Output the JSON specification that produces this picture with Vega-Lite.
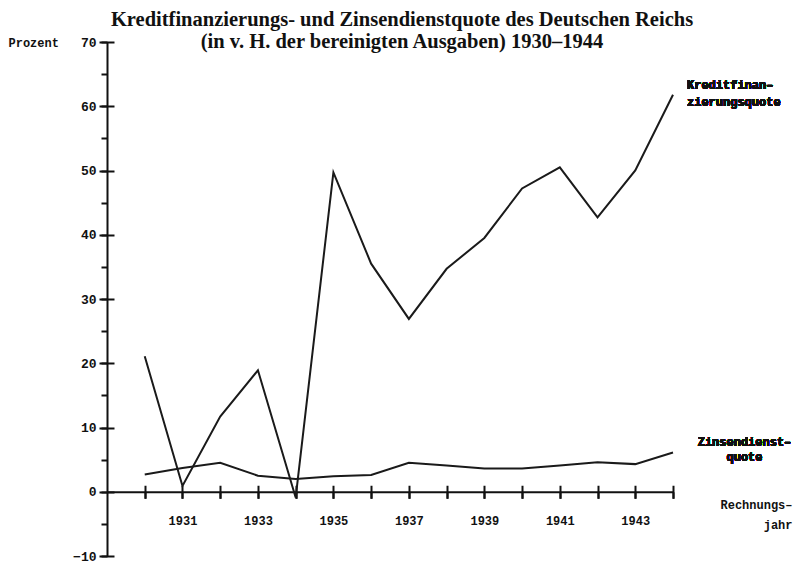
{
  "$schema": "https://vega.github.io/schema/vega-lite/v6.json",
  "width": 566,
  "height": 514,
  "autosize": {"type": "none"},
  "padding": {"left": 107, "top": 42, "right": 122, "bottom": 7},
  "background": "white",
  "title": {
    "text": ["Kreditfinanzierungs- und Zinsendienstquote des Deutschen Reichs", "(in v. H. der bereinigten Ausgaben) 1930–1944"],
    "font": "Liberation Serif",
    "fontSize": 20.5,
    "fontWeight": "bold",
    "lineHeight": 21.5,
    "color": "#111",
    "anchor": "middle",
    "frame": "group",
    "dx": 12,
    "dy": 20
  },
  "config": {
    "view": {"stroke": null},
    "axis": {"grid": false, "domainColor": "#111", "tickColor": "#111", "labelColor": "#111", "titleColor": "#111"}
  },
  "data": {
    "values": [
      {"year": 1930, "series": "Kredit", "value": 21.1},
      {"year": 1931, "series": "Kredit", "value": 0.9},
      {"year": 1932, "series": "Kredit", "value": 11.7},
      {"year": 1933, "series": "Kredit", "value": 18.9},
      {"year": 1934, "series": "Kredit", "value": -0.9},
      {"year": 1935, "series": "Kredit", "value": 49.7},
      {"year": 1936, "series": "Kredit", "value": 35.5},
      {"year": 1937, "series": "Kredit", "value": 26.9},
      {"year": 1938, "series": "Kredit", "value": 34.7},
      {"year": 1939, "series": "Kredit", "value": 39.5},
      {"year": 1940, "series": "Kredit", "value": 47.2},
      {"year": 1941, "series": "Kredit", "value": 50.5},
      {"year": 1942, "series": "Kredit", "value": 42.7},
      {"year": 1943, "series": "Kredit", "value": 50.0},
      {"year": 1944, "series": "Kredit", "value": 61.8},
      {"year": 1930, "series": "Zins", "value": 2.7},
      {"year": 1931, "series": "Zins", "value": 3.7},
      {"year": 1932, "series": "Zins", "value": 4.5},
      {"year": 1933, "series": "Zins", "value": 2.5},
      {"year": 1934, "series": "Zins", "value": 2.0},
      {"year": 1935, "series": "Zins", "value": 2.4},
      {"year": 1936, "series": "Zins", "value": 2.6},
      {"year": 1937, "series": "Zins", "value": 4.5},
      {"year": 1938, "series": "Zins", "value": 4.1},
      {"year": 1939, "series": "Zins", "value": 3.6},
      {"year": 1940, "series": "Zins", "value": 3.6},
      {"year": 1941, "series": "Zins", "value": 4.1},
      {"year": 1942, "series": "Zins", "value": 4.6},
      {"year": 1943, "series": "Zins", "value": 4.3},
      {"year": 1944, "series": "Zins", "value": 6.1}
    ]
  },
  "resolve": {"axis": {"x": "independent", "y": "independent"}},
  "layer": [
    {
      "transform": [{"filter": "datum.series === 'Kredit'"}],
      "mark": {"type": "line", "color": "#1a1a1a", "strokeWidth": 2},
      "encoding": {
        "x": {
          "field": "year", "type": "quantitative",
          "scale": {"domain": [1929, 1944], "nice": false, "zero": false},
          "axis": {
            "orient": "bottom", "offset": -64.25,
            "values": [1930,1931,1932,1933,1934,1935,1936,1937,1938,1939,1940,1941,1942,1943,1944],
            "tickSize": 6.5, "tickWidth": 2, "domainWidth": 2,
            "labelExpr": "datum.value % 2 === 1 ? format(datum.value, 'd') : ''",
            "labelFont": "Liberation Mono", "labelFontWeight": "bold", "labelFontSize": 12,
            "labelPadding": 17, "labelFlush": false, "labelOverlap": false,
            "title": ["Rechnungs–", "jahr"],
            "titleFont": "Liberation Mono", "titleFontWeight": "bold", "titleFontSize": 12,
            "titleAngle": 0, "titleAlign": "right", "titleBaseline": "top",
            "titleX": 685, "titleY": 8, "titleLineHeight": 20
          }
        },
        "y": {
          "field": "value", "type": "quantitative",
          "scale": {"domain": [-10, 70], "nice": false, "zero": false},
          "axis": {
            "orient": "left",
            "values": [-10,-5,0,5,10,15,20,25,30,35,40,45,50,55,60,65,70],
            "tickSize": 6, "tickWidth": 2, "domainWidth": 2,
            "labelExpr": "datum.value % 10 === 0 ? datum.label : ''",
            "labelFont": "Liberation Mono", "labelFontWeight": "bold", "labelFontSize": 13,
            "labelPadding": 5, "labelFlush": false, "labelOverlap": false,
            "title": "Prozent",
            "titleFont": "Liberation Mono", "titleFontWeight": "bold", "titleFontSize": 12,
            "titleAngle": 0, "titleAlign": "left", "titleBaseline": "middle",
            "titleX": -99, "titleY": 0
          }
        }
      }
    },
    {
      "transform": [{"filter": "datum.series === 'Zins'"}],
      "mark": {"type": "line", "color": "#1a1a1a", "strokeWidth": 2},
      "encoding": {
        "x": {
          "field": "year", "type": "quantitative",
          "axis": {
            "orient": "bottom", "offset": -70.75,
            "values": [1930,1931,1932,1933,1934,1935,1936,1937,1938,1939,1940,1941,1942,1943,1944],
            "tickSize": 13, "tickWidth": 2, "domain": false, "labels": false, "title": null
          }
        },
        "y": {
          "field": "value", "type": "quantitative",
          "axis": {
            "orient": "left", "offset": -7,
            "values": [-10,0,10,20,30,40,50,60,70],
            "tickSize": 15, "tickWidth": 2, "domain": false, "labels": false, "title": null
          }
        }
      }
    },
    {
      "mark": {"type": "text", "text": ["Kreditfinan–", "zierungsquote"], "align": "left", "baseline": "middle", "dx": 14, "lineHeight": 17, "font": "Liberation Mono", "fontWeight": "bold", "fontSize": 12, "color": "#111"},
      "encoding": {
        "x": {"datum": 1944, "type": "quantitative", "axis": null},
        "y": {"datum": 63.3, "type": "quantitative", "axis": null}
      }
    },
    {
      "mark": {"type": "text", "text": ["Zinsendienst–", "quote"], "align": "center", "baseline": "middle", "dx": 71.5, "lineHeight": 15, "font": "Liberation Mono", "fontWeight": "bold", "fontSize": 12, "color": "#111"},
      "encoding": {
        "x": {"datum": 1944, "type": "quantitative", "axis": null},
        "y": {"datum": 7.7, "type": "quantitative", "axis": null}
      }
    }
  ]
}
